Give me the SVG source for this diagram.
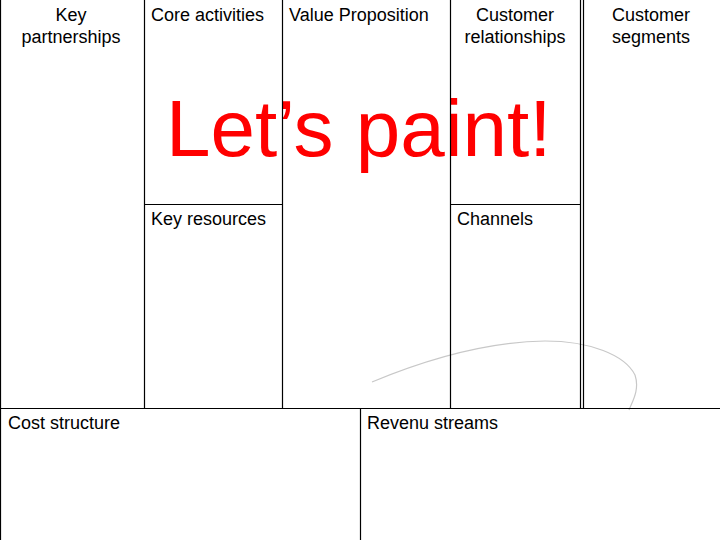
<svg xmlns="http://www.w3.org/2000/svg" width="720" height="540" viewBox="0 0 720 540">
<style>
.l{font-family:"Liberation Sans",Arial,sans-serif;font-size:18px;fill:#000}
.c{text-anchor:middle}
.ln{stroke:#000;stroke-width:1.2;fill:none}
</style>
<rect width="720" height="540" fill="#fff"/>
<text x="166" y="156" font-family="Liberation Sans,Arial,sans-serif" font-size="80" fill="#f00">Let’s paint!</text>
<path d="M372,382 C420,362 480,342 545,341 C590,341 625,355 635,375 C640,390 632,402 629,410" stroke="#c8c8c8" stroke-width="1.2" fill="none"/>
<g id="connectors" class="ln">
<line x1="0.5" y1="0" x2="0.5" y2="540"/>
<line x1="144.5" y1="0" x2="144.5" y2="408"/>
<line x1="282.5" y1="0" x2="282.5" y2="408"/>
<line x1="450.5" y1="0" x2="450.5" y2="408"/>
<line x1="580.5" y1="0" x2="580.5" y2="408"/>
<line x1="583.5" y1="0" x2="583.5" y2="408"/>
<line x1="144" y1="204.5" x2="282" y2="204.5"/>
<line x1="450" y1="204.5" x2="580" y2="204.5"/>
<line x1="0" y1="408.5" x2="720" y2="408.5"/>
<line x1="360.5" y1="408" x2="360.5" y2="540"/>
</g>
<g id="key-partnerships"><text class="l c" x="71" y="21">Key</text><text class="l c" x="71" y="43">partnerships</text></g>
<g id="core-activities"><text class="l" x="151" y="21">Core activities</text></g>
<g id="value-proposition"><text class="l" x="289" y="21">Value Proposition</text></g>
<g id="customer-relationships"><text class="l c" x="515" y="21">Customer</text><text class="l c" x="515" y="43">relationships</text></g>
<g id="customer-segments"><text class="l c" x="651" y="21">Customer</text><text class="l c" x="651" y="43">segments</text></g>
<g id="key-resources"><text class="l" x="151" y="225">Key resources</text></g>
<g id="channels"><text class="l" x="457" y="225">Channels</text></g>
<g id="cost-structure"><text class="l" x="8" y="429">Cost structure</text></g>
<g id="revenue-streams"><text class="l" x="367" y="429">Revenu streams</text></g>
</svg>
